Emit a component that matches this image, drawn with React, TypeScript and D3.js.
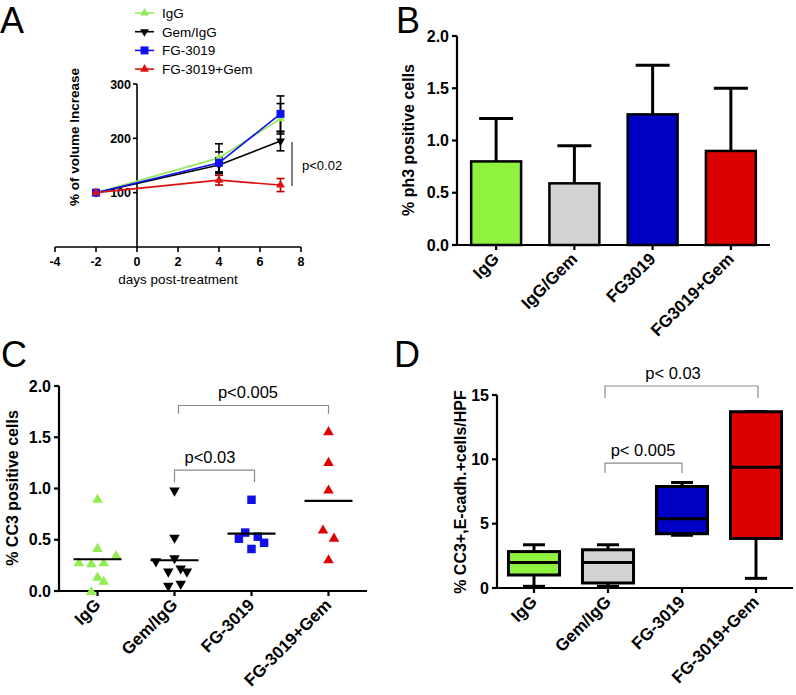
import React from 'react';
import * as d3 from 'd3';

const FONT = '"Liberation Sans", Arial, Helvetica, sans-serif';

// ---------- Panel A data ----------
const daysA = [-2, 4, 7];
const namesA = ['IgG', 'Gem/IgG', 'FG-3019', 'FG-3019+Gem'];
const igGMeanA = [100, 164, 236];
const igGErrA = [0, 26, 28];
const gemIgGMeanA = [100, 151, 195];
const gemIgGErrA = [0, 13, 18];
const fgMeanA = [100, 155, 245];
const fgErrA = [0, 20, 33];
const fgGemMeanA = [100, 123, 114];
const fgGemErrA = [0, 9, 12];
const xTicksA = [-4, -2, 0, 2, 4, 6, 8];
const yTicksA = [100, 200, 300];

// ---------- Panel B data ----------
const catsB = ['IgG', 'IgG/Gem', 'FG3019', 'FG3019+Gem'];
const meansB = [0.8, 0.59, 1.25, 0.9];
const sdB = [0.41, 0.36, 0.47, 0.6];
const yTicksB = [0, 0.5, 1.0, 1.5, 2.0];

// ---------- Panel C data ----------
const catsC = ['IgG', 'Gem/IgG', 'FG-3019', 'FG-3019+Gem'];
const igGC = [0.9, 0.42, 0.28, 0.27, 0.28, 0.35, 0.14, 0.1, 0.0];
const gemIgGC = [0.97, 0.51, 0.28, 0.31, 0.18, 0.21, 0.18, 0.04, 0.06];
const fgC = [0.89, 0.57, 0.51, 0.53, 0.47, 0.41];
const fgGemC = [1.56, 1.26, 0.99, 0.6, 0.52, 0.31];
const meanC = [0.31, 0.3, 0.56, 0.88];
// dodge slots (scatter-plot spreading of overlapping points)
const slotIgGC = [0, 0, -3, -1, 1, 3, 0, 1, -1];
const slotGemIgGC = [0, 0, -3, 0, -1, 1, 2, -1, 1];
const slotFgC = [0, -1, -2, 1, 2, 0];
const slotFgGemC = [0, 0, 0, -1, 1, 0];
const yTicksC = [0, 0.5, 1.0, 1.5, 2.0];

// ---------- Panel D data ----------
const catsD = ['IgG', 'Gem/IgG', 'FG-3019', 'FG-3019+Gem'];
const minD = [0.13, 0.13, 4.1, 0.75];
const q1D = [1.01, 0.39, 4.22, 3.85];
const medD = [1.99, 1.99, 5.38, 9.39];
const q3D = [2.83, 2.97, 7.89, 13.7];
const maxD = [3.36, 3.36, 8.2, 13.7];
const yTicksD = [0, 5, 10, 15];

const GREEN = '#8ef23f';
const GRAY = '#d3d3d3';
const BLUE = '#0000c4';
const RED = '#dd0000';

const tri = d3.symbol().type(d3.symbolTriangle);
const sq = d3.symbol().type(d3.symbolSquare);

function PanelLetter({ x, y, t }: { x: number; y: number; t: string }) {
  return (
    <text x={x} y={y} fontFamily={FONT} fontSize={36} fill="#000">
      {t}
    </text>
  );
}

function PanelA() {
  const x = d3.scaleLinear().domain([-4, 8]).range([55, 301]);
  const y = d3.scaleLinear().domain([0, 300]).range([247, 84]);
  const series = [
    { name: namesA[0], mean: igGMeanA, err: igGErrA, color: '#92ea5c', errColor: '#000', shape: 'up' },
    { name: namesA[1], mean: gemIgGMeanA, err: gemIgGErrA, color: '#000', errColor: '#000', shape: 'down' },
    { name: namesA[2], mean: fgMeanA, err: fgErrA, color: '#1010f0', errColor: '#000', shape: 'sq' },
    { name: namesA[3], mean: fgGemMeanA, err: fgGemErrA, color: '#dd1010', errColor: '#b00000', shape: 'up' },
  ];
  const line = d3
    .line<number>()
    .x((_, i) => x(daysA[i]))
    .y((d) => y(d));
  const marker = (shape: string, cx: number, cy: number, color: string, k: number) => {
    if (shape === 'sq') return <path key={k} d={sq.size(64)()!} transform={`translate(${cx},${cy})`} fill={color} />;
    const rot = shape === 'down' ? 180 : 0;
    return <path key={k} d={tri.size(34)()!} transform={`translate(${cx},${cy}) rotate(${rot})`} fill={color} />;
  };
  const x0 = x(0);
  const yBase = y(0);
  return (
    <g>
      {/* legend */}
      {series.map((s, i) => {
        const cy = 13 + i * 18.7;
        return (
          <g key={s.name}>
            <line x1={135} x2={154} y1={cy} y2={cy} stroke={s.color} strokeWidth={1.6} />
            {marker(s.shape, 144.5, cy, s.color, i)}
            <text x={162} y={cy + 5} fontFamily={FONT} fontSize={13.5}>
              {s.name}
            </text>
          </g>
        );
      })}
      {/* axes */}
      <line x1={x(-4)} x2={x(8)} y1={yBase} y2={yBase} stroke="#000" strokeWidth={1.6} />
      <line x1={x0} x2={x0} y1={yBase} y2={y(300)} stroke="#000" strokeWidth={1.6} />
      {xTicksA.map((t) => (
        <g key={t}>
          <line x1={x(t)} x2={x(t)} y1={yBase} y2={yBase + 5} stroke="#000" strokeWidth={1.6} />
          <text x={x(t)} y={yBase + 19} textAnchor="middle" fontFamily={FONT} fontWeight="bold" fontSize={12.5}>
            {t}
          </text>
        </g>
      ))}
      {yTicksA.map((t) => (
        <g key={t}>
          <line x1={x0 - 4} x2={x0} y1={y(t)} y2={y(t)} stroke="#000" strokeWidth={1.6} />
          <text x={x0 - 6} y={y(t) + 4.5} textAnchor="end" fontFamily={FONT} fontWeight="bold" fontSize={12.5}>
            {t}
          </text>
        </g>
      ))}
      <text x={178} y={284} textAnchor="middle" fontFamily={FONT} fontSize={13.5}>
        days post-treatment
      </text>
      <text
        transform={`translate(79,137) rotate(-90)`}
        textAnchor="middle"
        fontFamily={FONT}
        fontWeight="bold"
        fontSize={13.5}
      >
        % of volume Increase
      </text>
      {/* series */}
      {series.map((s) => (
        <g key={s.name}>
          <path d={line(s.mean)!} fill="none" stroke={s.color} strokeWidth={1.6} />
          {s.mean.map((m, i) =>
            s.err[i] > 0 ? (
              <g key={i} stroke={s.errColor} strokeWidth={1.6}>
                <line x1={x(daysA[i])} x2={x(daysA[i])} y1={y(m - s.err[i])} y2={y(m + s.err[i])} />
                <line x1={x(daysA[i]) - 4} x2={x(daysA[i]) + 4} y1={y(m + s.err[i])} y2={y(m + s.err[i])} />
                <line x1={x(daysA[i]) - 4} x2={x(daysA[i]) + 4} y1={y(m - s.err[i])} y2={y(m - s.err[i])} />
              </g>
            ) : null
          )}
        </g>
      ))}
      {series.map((s, si) => (
        <g key={'m' + s.name}>{s.mean.map((m, i) => marker(s.shape, x(daysA[i]), y(m), s.color, si * 10 + i))}</g>
      ))}
      {/* significance */}
      <line x1={292} x2={292} y1={142} y2={186} stroke="#000" strokeWidth={1} />
      <text x={302} y={170} fontFamily={FONT} fontSize={13}>
        p&lt;0.02
      </text>
    </g>
  );
}

function catAxis(
  x: d3.ScaleBand<string>,
  y: d3.ScaleLinear<number, number>,
  cats: string[],
  ticks: number[],
  fmt: (v: number) => string,
  x0: number,
  x1: number
) {
  const yb = y(0);
  return (
    <g>
      <line x1={x0} x2={x1} y1={yb} y2={yb} stroke="#000" strokeWidth={2.2} />
      <line x1={x0} x2={x0} y1={yb} y2={y(ticks[ticks.length - 1])} stroke="#000" strokeWidth={2.2} />
      {ticks.map((t) => (
        <g key={t}>
          <line x1={x0 - 5} x2={x0} y1={y(t)} y2={y(t)} stroke="#000" strokeWidth={2.2} />
          <text x={x0 - 8} y={y(t) + 5.5} textAnchor="end" fontFamily={FONT} fontWeight="bold" fontSize={16}>
            {fmt(t)}
          </text>
        </g>
      ))}
      {cats.map((c) => {
        const cx = x(c)! + x.bandwidth() / 2;
        return (
          <g key={c}>
            <line x1={cx} x2={cx} y1={yb} y2={yb + 5} stroke="#000" strokeWidth={2.2} />
            <text
              transform={`translate(${cx + 4},${yb + 15}) rotate(-45)`}
              textAnchor="end"
              fontFamily={FONT}
              fontWeight="bold"
              fontSize={17}
            >
              {c}
            </text>
          </g>
        );
      })}
    </g>
  );
}

function PanelB() {
  const x = d3.scaleBand<string>().domain(catsB).range([457, 770]).paddingInner(0.33).paddingOuter(0.165);
  const y = d3.scaleLinear().domain([0, 2]).range([245, 36]);
  const fills = [GREEN, GRAY, BLUE, RED];
  return (
    <g>
      {catsB.map((c, i) => {
        const cx = x(c)! + x.bandwidth() / 2;
        return (
          <g key={c}>
            <line x1={cx} x2={cx} y1={y(meansB[i])} y2={y(meansB[i] + sdB[i])} stroke="#000" strokeWidth={3} />
            <line x1={cx - 17} x2={cx + 17} y1={y(meansB[i] + sdB[i])} y2={y(meansB[i] + sdB[i])} stroke="#000" strokeWidth={3} />
            <rect
              x={x(c)! + 1.25}
              y={y(meansB[i])}
              width={x.bandwidth() - 2.5}
              height={y(0) - y(meansB[i])}
              fill={fills[i]}
              stroke="#000"
              strokeWidth={2.5}
            />
          </g>
        );
      })}
      {catAxis(x, y, catsB, yTicksB, (v) => v.toFixed(1), 457, 770)}
      <text
        transform={`translate(414,140) rotate(-90)`}
        textAnchor="middle"
        fontFamily={FONT}
        fontWeight="bold"
        fontSize={16}
      >
        % ph3 positive cells
      </text>
    </g>
  );
}

function Bracket({
  x1,
  x2,
  yTop,
  yLeg,
  label,
  tx,
}: {
  x1: number;
  x2: number;
  yTop: number;
  yLeg: number;
  label: string;
  tx: number;
}) {
  return (
    <g>
      <path d={`M${x1},${yLeg}V${yTop}H${x2}V${yLeg}`} fill="none" stroke="#8a8a8a" strokeWidth={1.2} />
      <text x={tx} y={yTop - 7} textAnchor="middle" fontFamily={FONT} fontSize={16.5}>
        {label}
      </text>
    </g>
  );
}

function PanelC() {
  const x = d3.scaleBand<string>().domain(catsC).range([59, 367]).paddingInner(0.33).paddingOuter(0.165);
  const y = d3.scaleLinear().domain([0, 2]).range([591, 386]);
  const groups = [
    { vals: igGC, slots: slotIgGC, color: '#90ee50', shape: 'up' },
    { vals: gemIgGC, slots: slotGemIgGC, color: '#000', shape: 'down' },
    { vals: fgC, slots: slotFgC, color: '#1010e8', shape: 'sq' },
    { vals: fgGemC, slots: slotFgGemC, color: RED, shape: 'up' },
  ];
  const slotW = [6.2, 6.2, 6.3, 5.5];
  const cxOf = (i: number) => x(catsC[i])! + x.bandwidth() / 2;
  return (
    <g>
      {catAxis(x, y, catsC, yTicksC, (v) => v.toFixed(1), 59, 367)}
      {groups.map((g, gi) =>
        g.vals.map((v, i) => {
          const cx = cxOf(gi) + g.slots[i] * slotW[gi];
          const cy = y(v);
          if (g.shape === 'sq')
            return <path key={gi + '-' + i} d={sq.size(72)()!} transform={`translate(${cx},${cy})`} fill={g.color} />;
          return (
            <path
              key={gi + '-' + i}
              d={tri.size(48)()!}
              transform={`translate(${cx},${cy + (g.shape === 'down' ? -1 : 1)}) rotate(${g.shape === 'down' ? 180 : 0})`}
              fill={g.color}
            />
          );
        })
      )}
      {meanC.map((m, i) => (
        <line key={i} x1={cxOf(i) - 24} x2={cxOf(i) + 24} y1={y(m)} y2={y(m)} stroke="#000" strokeWidth={2.2} />
      ))}
      <Bracket x1={cxOf(1) + 4} x2={cxOf(3)} yTop={y(1.81)} yLeg={y(1.73)} label="p<0.005" tx={248} />
      <Bracket x1={cxOf(1)} x2={cxOf(2) + 3} yTop={y(1.18)} yLeg={y(1.06)} label="p<0.03" tx={210} />
      <text
        transform={`translate(18,488) rotate(-90)`}
        textAnchor="middle"
        fontFamily={FONT}
        fontWeight="bold"
        fontSize={16}
      >
        % CC3 positive cells
      </text>
    </g>
  );
}

function PanelD() {
  const x = d3.scaleBand<string>().domain(catsD).range([497, 793]).paddingInner(0.31).paddingOuter(0.155);
  const y = d3.scaleLinear().domain([0, 15]).range([588, 395]);
  const fills = [GREEN, GRAY, BLUE, RED];
  const cxOf = (i: number) => x(catsD[i])! + x.bandwidth() / 2;
  return (
    <g>
      {catsD.map((c, i) => {
        const cx = cxOf(i);
        const bw = x.bandwidth();
        return (
          <g key={c} stroke="#000" strokeWidth={3}>
            <line x1={cx} x2={cx} y1={y(maxD[i])} y2={y(q3D[i])} />
            <line x1={cx} x2={cx} y1={y(q1D[i])} y2={y(minD[i])} />
            <line x1={cx - 11} x2={cx + 11} y1={y(maxD[i])} y2={y(maxD[i])} />
            <line x1={cx - 11} x2={cx + 11} y1={y(minD[i])} y2={y(minD[i])} />
            <rect x={cx - bw / 2} y={y(q3D[i])} width={bw} height={y(q1D[i]) - y(q3D[i])} fill={fills[i]} />
            <line x1={cx - bw / 2} x2={cx + bw / 2} y1={y(medD[i])} y2={y(medD[i])} />
          </g>
        );
      })}
      {catAxis(x, y, catsD, yTicksD, (v) => String(v), 497, 793)}
      <Bracket x1={cxOf(1) - 3} x2={cxOf(3) + 2} yTop={y(15.7)} yLeg={y(14.76)} label="p< 0.03" tx={673} />
      <Bracket x1={cxOf(1) - 3} x2={cxOf(2)} yTop={y(9.71)} yLeg={y(8.94)} label="p< 0.005" tx={643} />
      <text
        transform={`translate(466,492) rotate(-90)`}
        textAnchor="middle"
        fontFamily={FONT}
        fontWeight="bold"
        fontSize={16}
      >
        % CC3+,E-cadh.+cells/HPF
      </text>
    </g>
  );
}

export default function App() {
  return (
    <svg
      width={796}
      height={695}
      viewBox="0 0 796 695"
      style={{ position: 'absolute', left: 0, top: 0, background: '#fff' }}
    >
      <rect width={796} height={695} fill="#fff" />
      <PanelLetter x={0} y={33} t="A" />
      <PanelLetter x={396} y={33} t="B" />
      <PanelLetter x={1} y={367} t="C" />
      <PanelLetter x={394} y={367} t="D" />
      <PanelA />
      <PanelB />
      <PanelC />
      <PanelD />
    </svg>
  );
}
